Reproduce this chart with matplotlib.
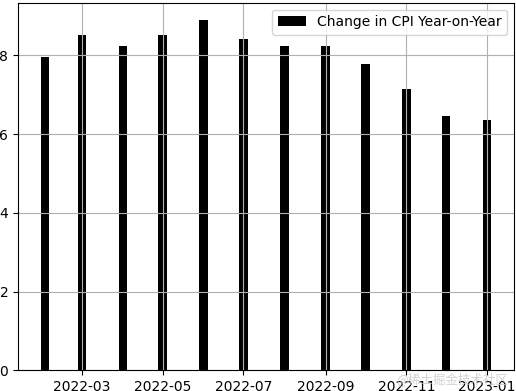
import matplotlib
matplotlib.use('Agg')
import matplotlib.pyplot as plt
import matplotlib.dates as mdates
import numpy as np
import pandas as pd

# monthly CPI change, Feb 2022 - Jan 2023
months = pd.date_range('2022-02-01', '2023-01-01', freq='MS')
cpi_change = [7.95, 8.52, 8.23, 8.52, 8.89, 8.41, 8.23, 8.23, 7.77, 7.14, 6.45, 6.35]

fig = plt.figure(figsize=(5.16, 3.91), dpi=100)
ax = fig.add_axes([18/516, 1 - 370.3/391, (514 - 18)/516, (370.3 - 2.7)/391])

ax.bar(months, cpi_change, width=6.5, color='black', label='Change in CPI Year-on-Year')
ax.xaxis.set_major_locator(mdates.MonthLocator(bymonth=[1, 3, 5, 7, 9, 11]))
ax.xaxis.set_major_formatter(mdates.DateFormatter('%Y-%m'))
ax.grid(True)
ax.legend(loc='upper right')

fig.text(0.985, 0.012, '@稀土掘金技术社区', ha='right', va='bottom', fontsize=9,
         color='#c8c8c8', alpha=0.8, family=['Noto Sans CJK SC', 'DejaVu Sans'])

plt.savefig('out.png', dpi=100)
plt.close()
